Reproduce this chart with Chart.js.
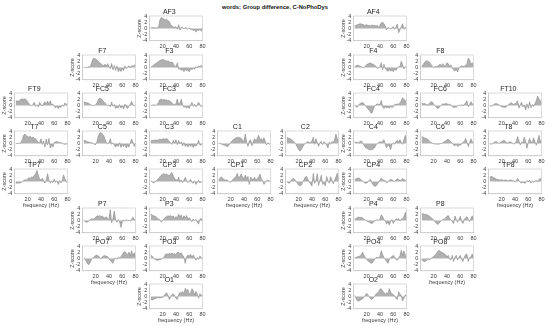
<!DOCTYPE html>
<html>
<head>
<meta charset="utf-8">
<script src="https://cdn.jsdelivr.net/npm/chart.js@4.4.1/dist/chart.umd.min.js"></script>
<style>
  html, body { margin: 0; padding: 0; background: #fff; }
  #fig { position: relative; width: 550px; height: 326px; overflow: hidden; background: #fff; }
  #fig canvas { position: absolute; }
  #suptitle {
    position: absolute; left: 0; top: 4px; width: 550px; text-align: center;
    font: bold 5.8px/7px "Liberation Sans", Arial, sans-serif; color: #111;
  }
</style>
</head>
<body>
<div id="fig"><div id="suptitle">words; Group difference, C-NoPhoDys</div></div>
<script>
// Frequency bins (Hz) and axis ticks
const freqs = [2,4,6,8,10,12,14,16,18,20,22,24,26,28,30,32,34,36,38,40,42,44,46,48,50,52,54,56,58,60,62,64,66,68,70,72,74,76,78,80];
const xTicks = [20, 40, 60, 80];
const yTicks = [-4, -2, 0, 2, 4];

// Group-difference z-scores per electrode, one value per frequency bin
const AF3  = [0.2,0.2,0.3,0.2,0.1,0.2,0.5,2.8,3.5,3.3,3.0,2.8,2.9,2.5,2.2,1.2,0.8,0.5,0.3,0.6,-0.3,1.2,-0.6,0.4,0.2,-0.2,0.3,0.1,-0.3,0.2,-0.4,-0.2,-0.7,-0.5,-1.2,-0.4,-0.8,-0.3,-0.9,0.2];
const AF4  = [0.8,1.0,1.2,1.3,1.5,1.4,1.3,1.1,1.0,1.2,0.9,1.0,0.8,1.1,0.9,1.0,0.8,0.9,0.4,1.0,1.8,2.0,1.5,0.8,-0.5,0.3,0.1,-0.2,0.3,0.5,-0.3,0.4,1.4,-1.4,-0.5,0.6,1.5,-0.3,0.4,-0.2];
const F7   = [0.1,0.0,-0.1,0.1,0.2,0.3,1.5,2.8,2.9,2.7,2.4,2.0,1.5,1.2,0.8,0.6,1.0,0.5,1.2,0.3,-0.4,1.3,-0.8,0.6,-1.0,0.5,-1.4,-0.6,-1.3,-0.3,-1.0,0.5,-0.4,0.2,0.5,-0.2,0.6,0.3,0.8,0.5];
const F3   = [0.1,0.3,0.6,1.0,1.3,1.6,1.9,2.2,2.4,2.6,2.4,2.2,2.0,2.1,1.8,1.6,1.8,1.2,0.4,0.2,1.4,-0.6,-0.3,-1.0,-0.5,-1.4,-0.4,-1.2,-0.6,-1.5,-0.3,-0.8,-0.2,-0.6,0.3,-0.2,0.5,0.2,0.6,0.4];
const F4   = [0.2,0.5,0.7,0.6,0.4,0.2,0.0,-0.1,0.4,0.9,1.1,1.3,1.5,1.0,1.1,0.6,0.4,-0.3,-0.2,0.3,1.5,-0.8,1.0,-0.4,-0.8,-1.3,-0.6,-1.2,-0.9,-1.4,-0.5,-1.0,-0.3,0.2,0.3,2.0,0.8,-0.5,0.3,-0.2];
const F8   = [0.2,0.8,1.5,2.0,2.1,2.0,1.6,1.0,0.3,0.0,0.2,0.4,0.3,0.8,1.0,0.6,1.2,0.4,0.6,1.5,1.2,0.4,0.8,-0.3,-0.8,-1.2,-0.6,-1.5,-0.2,0.2,0.5,0.3,0.4,0.6,1.2,3.0,2.4,1.0,1.5,0.5];
const FT9  = [1.2,1.5,1.3,1.6,2.0,2.1,2.0,2.1,1.8,1.2,0.5,0.1,-0.2,0.3,1.0,-0.3,0.2,-0.5,1.0,0.3,-0.2,0.6,1.2,0.4,1.4,0.3,1.5,0.2,0.4,-0.2,-0.8,-0.3,-1.0,-0.4,-0.6,0.2,-0.3,0.8,0.3,0.6];
const FC5  = [1.2,1.0,0.9,0.8,0.6,0.3,0.1,0.0,-0.1,0.2,0.8,1.8,2.4,2.2,1.8,1.2,0.8,0.3,-0.2,0.2,-0.4,1.1,-0.3,0.3,-1.0,-0.4,-0.9,0.3,-0.8,-0.2,-1.2,0.4,-0.6,-1.0,-0.3,0.4,1.3,0.3,-0.2,0.1];
const FC3  = [0.1,0.0,0.2,0.1,0.0,0.4,1.0,1.9,2.0,1.8,1.9,1.7,1.8,1.5,1.6,1.2,0.8,0.4,0.2,0.5,2.1,0.3,0.8,2.0,0.2,-0.6,-0.3,-0.9,-0.4,-1.0,0.2,1.0,-0.3,0.4,-0.5,0.3,1.0,0.2,-0.4,0.2];
const FC4  = [0.1,-0.4,-0.6,0.2,0.5,0.8,1.0,0.5,0.0,-0.6,-1.2,-1.6,-2.3,-2.5,-1.2,-0.3,0.2,0.5,0.3,0.4,1.6,-0.5,-1.0,-0.4,-0.8,-0.5,-0.9,-0.3,-0.7,-0.4,0.3,0.2,0.5,0.4,0.8,1.5,2.5,1.8,1.6,1.2];
const FC6  = [0.6,0.5,0.6,0.4,0.2,0.1,0.8,1.2,1.1,0.4,0.0,-0.6,-1.0,-0.8,-0.2,0.2,0.5,0.4,0.6,0.5,0.3,0.4,0.1,-0.4,-0.7,-0.5,-0.6,-0.2,0.1,0.0,0.3,-0.2,0.4,0.8,1.5,-0.4,0.3,1.2,0.5,0.2];
const FT10 = [0.0,-0.3,-0.2,0.3,0.5,0.6,0.4,0.2,-0.2,-0.4,-0.6,-0.5,-0.7,-0.3,0.2,0.5,0.9,0.6,0.3,0.5,0.8,1.5,-0.9,0.3,1.0,-0.5,0.2,-1.5,0.5,-1.0,1.2,-0.8,0.3,-0.4,0.6,1.5,3.0,2.2,1.5,0.6];
const T7   = [-0.1,0.0,-0.1,0.1,0.3,1.2,2.6,3.0,2.5,2.2,2.0,2.3,1.9,2.0,1.6,1.5,0.8,0.3,0.2,1.5,-0.3,0.8,-1.2,1.5,-0.5,1.6,-1.5,-0.4,-1.2,0.3,0.5,0.6,0.4,0.3,0.2,0.1,-0.2,-0.3,-0.2,-0.1];
const C5   = [1.0,0.9,0.7,0.5,0.4,0.3,0.2,0.1,-0.3,-0.4,0.5,2.5,3.2,3.5,3.0,2.6,1.4,0.3,-0.2,0.3,1.5,-0.3,0.2,-0.6,-1.2,-0.4,-1.0,0.2,-1.3,-0.5,-1.0,-0.3,-1.5,-0.6,-1.2,0.2,1.4,0.4,-1.0,0.2];
const C3   = [0.8,0.9,1.0,1.0,1.1,1.0,1.2,1.3,1.2,1.4,1.5,1.3,1.6,1.2,0.6,0.2,-0.3,1.0,0.1,1.2,-0.4,1.0,-0.2,0.5,-0.8,0.3,-1.0,-0.3,-1.2,-0.2,-1.0,-0.4,-1.3,-0.5,-0.9,-0.3,1.0,-0.6,-0.4,0.1];
const C1   = [0.1,0.0,-0.2,-0.4,-0.5,-0.7,-0.9,-1.0,-0.4,0.3,0.8,1.2,1.5,1.8,1.9,2.0,1.8,1.6,1.0,0.6,3.0,0.3,-1.0,0.8,1.2,-0.8,0.6,1.5,0.8,1.6,2.6,1.2,1.5,0.9,1.8,0.6,-0.5,0.2,-0.3,0.1];
const C2   = [2.0,1.8,1.6,1.4,1.1,0.8,0.3,-0.3,-1.2,-2.0,-2.5,-2.0,-1.2,-0.4,0.0,0.3,0.6,0.2,0.4,0.8,2.0,-0.3,1.5,0.2,-1.0,0.3,0.6,-0.4,0.5,0.2,-0.6,-1.5,0.4,-0.3,0.6,0.2,1.2,3.0,1.5,0.5];
const C4   = [0.5,0.3,0.4,0.2,0.6,0.8,0.2,-0.6,-1.3,-1.6,-1.8,-2.0,-2.1,-2.0,-1.8,-1.4,-0.5,0.0,0.3,0.5,0.4,0.8,1.2,-0.4,-1.4,-0.6,-0.8,-2.0,-0.4,0.2,-0.3,0.6,1.0,0.5,1.2,0.4,-0.3,1.2,2.6,1.0];
const C6   = [2.0,2.1,1.8,1.6,1.5,1.2,0.6,0.3,0.1,-0.1,-0.2,-0.2,-0.3,-0.2,-0.1,0.0,0.2,0.5,0.8,1.1,1.3,0.9,0.4,0.1,-0.5,-0.8,-0.3,-1.0,-0.5,-0.6,-0.2,0.4,0.6,1.6,0.4,-1.0,0.3,1.5,0.5,0.2];
const T8   = [0.0,-0.3,-0.1,0.2,0.5,0.6,0.3,0.0,0.3,0.6,0.8,1.0,0.5,0.1,0.2,0.5,0.4,0.2,-0.3,0.1,0.5,2.2,0.8,-0.5,0.4,0.3,2.0,0.6,-1.6,0.3,1.6,0.4,0.2,1.8,0.5,-0.6,0.8,2.6,0.4,1.2];
const TP7  = [-0.5,-0.6,-0.5,-0.5,-0.4,0.0,0.3,0.5,0.4,0.8,1.2,0.9,1.5,1.2,2.0,2.3,3.5,2.0,0.8,0.5,1.0,0.3,-0.5,0.4,2.5,0.3,-0.6,0.2,-0.4,0.8,-0.3,0.2,-1.0,0.3,-0.5,0.4,2.1,0.8,-0.3,0.2];
const CP3  = [0.2,0.0,-0.5,-0.3,0.1,0.5,1.0,1.5,2.0,2.3,2.5,2.2,2.4,2.0,1.8,2.5,2.9,1.8,0.8,0.6,0.3,1.4,-0.3,0.5,-0.4,0.4,1.3,0.2,-0.4,0.3,0.6,-0.3,-0.6,0.2,-1.0,-0.3,0.4,-0.5,-0.2,0.1];
const CP1  = [0.3,1.0,1.5,1.0,0.6,0.4,0.5,0.2,-0.1,-0.3,0.2,0.8,1.2,1.5,2.6,1.2,1.5,2.4,1.2,0.9,2.0,1.0,1.6,-1.0,1.4,0.8,0.5,1.3,0.4,0.9,1.3,2.4,0.8,0.4,-1.0,-0.3,0.3,0.4,0.2,-0.1];
const CP2  = [0.0,-0.4,-0.6,0.2,0.6,1.0,0.6,0.1,-0.6,-1.2,-1.4,-1.2,-0.3,0.5,1.4,1.6,0.6,-0.3,-0.8,-1.5,2.6,-0.6,0.3,2.5,-1.3,0.4,2.0,-1.0,-0.3,-1.5,1.6,0.3,-0.6,1.5,0.4,-0.8,0.5,1.4,2.6,0.5];
const CP4  = [0.6,0.8,1.0,1.1,0.9,0.4,0.1,-0.3,-0.6,-0.5,-0.2,0.4,0.6,-0.5,-1.2,-1.6,-1.5,-1.0,-0.2,0.4,1.1,0.6,0.2,0.3,-0.5,-0.2,0.4,0.6,0.5,0.2,-0.1,0.4,0.9,0.6,0.3,0.4,1.0,0.6,0.4,0.3];
const TP8  = [1.3,1.6,1.5,1.2,1.0,0.8,0.6,0.5,0.4,0.6,0.3,0.4,0.5,0.3,0.2,0.4,0.5,0.2,0.3,-0.2,0.3,1.0,0.2,-0.3,-0.5,-0.2,-0.6,-0.4,0.3,-0.2,0.4,-0.5,0.2,-0.3,0.1,0.4,-0.2,0.6,1.0,0.3];
const P7   = [0.0,-0.3,-0.6,-0.5,-0.2,0.3,0.5,0.4,0.6,1.0,1.5,1.3,1.6,1.2,1.4,1.0,0.8,1.2,0.6,0.3,3.5,-0.8,0.5,3.0,0.2,-0.6,0.3,-0.4,-2.3,-0.5,0.2,-0.3,0.3,-0.2,0.1,-0.3,0.4,1.0,0.2,0.1];
const P3   = [2.0,1.8,1.5,1.4,1.2,0.8,0.4,0.2,-0.6,0.1,0.5,1.0,1.2,1.5,1.3,1.6,1.2,1.4,0.6,1.2,0.8,2.0,1.0,1.8,0.5,1.5,0.8,1.6,0.3,0.9,0.2,-0.4,0.5,-0.2,0.3,-0.5,-1.2,0.4,0.6,-0.3];
const P4   = [0.4,0.6,0.9,1.1,0.9,1.0,0.8,0.4,0.1,-0.2,-0.4,-0.6,-0.8,-1.1,-0.6,-0.2,0.1,0.2,0.0,0.5,1.8,1.2,0.4,-0.3,-1.2,-0.5,-1.5,-0.4,0.3,-1.0,-0.3,0.5,0.3,0.6,-0.2,0.4,0.5,1.2,2.6,0.8];
const P8   = [2.0,2.2,1.9,2.0,1.8,1.6,1.3,0.9,0.5,0.2,-0.4,-0.9,-1.3,-1.0,-0.4,0.0,0.3,0.4,0.8,1.3,1.6,0.6,0.2,-0.4,-1.0,1.4,0.3,-0.6,0.4,1.3,-0.3,-1.0,0.4,0.8,1.2,0.3,-0.4,0.6,1.5,0.3];
const PO7  = [0.2,-0.3,-1.0,-1.8,-2.0,-1.2,-0.3,0.2,0.6,0.9,1.1,0.8,0.2,-0.2,0.5,0.8,0.9,0.7,0.6,-0.2,-0.6,-1.2,-1.6,-0.4,0.2,-0.3,0.4,0.2,0.5,1.2,1.9,2.2,1.6,1.2,2.0,1.0,2.5,0.8,1.8,0.4];
const PO3  = [1.0,0.8,0.3,-0.3,-0.5,-0.6,-0.5,-0.4,-0.3,0.0,0.4,1.2,1.5,1.3,1.6,1.4,1.8,1.3,1.6,1.2,1.9,2.0,1.5,1.8,1.0,0.4,-1.6,0.6,1.0,0.8,1.3,0.4,1.1,0.2,-0.6,0.3,-0.4,0.8,0.2,-0.3];
const PO4  = [0.1,0.3,0.5,0.6,0.8,1.2,2.0,1.0,0.3,-0.3,-0.8,-1.2,-1.4,-1.6,-1.0,-0.3,0.2,0.4,0.2,0.6,2.5,1.2,0.3,-0.3,-1.0,-1.6,-0.4,0.3,0.6,1.0,0.4,-0.3,-0.6,0.2,0.8,2.6,1.0,2.4,1.2,0.4];
const PO8  = [-0.3,-0.8,-1.0,-0.9,-0.5,-0.2,-0.5,0.0,0.3,0.6,1.0,1.5,2.2,2.6,2.3,2.0,1.8,1.5,1.2,0.5,1.0,-0.2,-0.5,1.0,-1.0,0.4,1.0,-0.5,0.3,1.0,-0.3,-1.0,0.4,1.2,1.4,-1.0,0.3,0.5,1.4,0.3];
const O1   = [-0.8,-1.2,-1.0,-0.8,-0.6,-0.5,-0.4,-0.5,-0.3,-0.4,0.2,0.8,1.2,0.3,-1.0,-0.3,0.6,0.8,0.2,-0.6,-1.0,0.5,1.3,1.0,1.6,0.8,2.6,1.8,2.2,0.6,1.2,2.5,1.8,0.5,1.6,0.8,-0.6,0.9,0.3,0.5];
const O2   = [0.3,-0.6,-1.4,-1.5,-1.3,-1.0,-0.8,-0.3,0.4,1.0,0.5,-0.2,-0.8,-1.0,-0.5,0.0,0.8,1.0,1.5,2.3,2.5,1.8,1.2,0.6,1.2,0.8,2.5,1.4,0.8,0.6,0.2,-0.6,-1.0,1.5,0.8,0.3,-1.5,-0.6,0.5,0.2];

// Electrode montage: label, series, grid row, grid column
const montage = [
  ['AF3', AF3, 0, 2], ['AF4', AF4, 0, 5],
  ['F7', F7, 1, 1], ['F3', F3, 1, 2], ['F4', F4, 1, 5], ['F8', F8, 1, 6],
  ['FT9', FT9, 2, 0], ['FC5', FC5, 2, 1], ['FC3', FC3, 2, 2], ['FC4', FC4, 2, 5], ['FC6', FC6, 2, 6], ['FT10', FT10, 2, 7],
  ['T7', T7, 3, 0], ['C5', C5, 3, 1], ['C3', C3, 3, 2], ['C1', C1, 3, 3], ['C2', C2, 3, 4], ['C4', C4, 3, 5], ['C6', C6, 3, 6], ['T8', T8, 3, 7],
  ['TP7', TP7, 4, 0], ['CP3', CP3, 4, 2], ['CP1', CP1, 4, 3], ['CP2', CP2, 4, 4], ['CP4', CP4, 4, 5], ['TP8', TP8, 4, 7],
  ['P7', P7, 5, 1], ['P3', P3, 5, 2], ['P4', P4, 5, 5], ['P8', P8, 5, 6],
  ['PO7', PO7, 6, 1], ['PO3', PO3, 6, 2], ['PO4', PO4, 6, 5], ['PO8', PO8, 6, 6],
  ['O1', O1, 7, 2], ['O2', O2, 7, 5]
];
// Panels that carry the y-axis title / the x-axis title
const yTitled = ['AF3','F7','FT9','T7','TP7','P7','PO7','O1','AF4','F4','FC4','C4','CP4','P4','PO4','O2'];
const xTitled = ['TP7','PO7','O1','CP1','CP2','TP8','PO8','O2'];

// Panel geometry (px)
const COL0 = 14.3, COL_STEP = 67.7, ROW0 = 16.2, ROW_STEP = 38.3;
const PLOT_W = 53.3, PLOT_H = 24.8;
const Y_AXIS_W = 13.3, X_AXIS_H = 15, PAD_R = 6;
const TITLE_SIZE = 7, TITLE_PAD = 0;
const TITLE_H = TITLE_SIZE + TITLE_PAD;
const FONT = '"Liberation Sans", Arial, sans-serif';

// Light box around each plot area
const frameBox = {
  id: 'frameBox',
  afterDatasetsDraw(chart) {
    const a = chart.chartArea, c = chart.ctx;
    c.save();
    c.strokeStyle = '#c4c4c4';
    c.lineWidth = 0.6;
    c.strokeRect(a.left, a.top, a.right - a.left, a.bottom - a.top);
    c.restore();
  }
};

const fig = document.getElementById('fig');
montage.forEach(([name, values, row, col]) => {
  const plotL = COL0 + col * COL_STEP;
  const plotT = ROW0 + row * ROW_STEP;
  const cv = document.createElement('canvas');
  const W = Y_AXIS_W + PLOT_W + PAD_R;
  const H = TITLE_H + PLOT_H + X_AXIS_H;
  cv.width = Math.round(W); cv.height = Math.round(H);
  cv.style.width = Math.round(W) + 'px'; cv.style.height = Math.round(H) + 'px';
  cv.style.left = (plotL - Y_AXIS_W) + 'px';
  cv.style.top = (plotT - TITLE_H) + 'px';
  fig.appendChild(cv);

  new Chart(cv, {
    type: 'line',
    data: {
      datasets: [{
        data: freqs.map((f, i) => ({ x: f, y: values[i] })),
        fill: 'origin',
        backgroundColor: 'rgba(150,150,150,0.75)',
        borderColor: '#8a8a8a',
        borderWidth: 0.6,
        pointRadius: 0,
        tension: 0
      }]
    },
    options: {
      responsive: false,
      animation: false,
      devicePixelRatio: 1,
      events: [],
      layout: { padding: { left: 0, right: Math.round(W) - Y_AXIS_W - PLOT_W, top: 0, bottom: Math.round(H) - H } },
      plugins: {
        legend: { display: false },
        tooltip: { enabled: false },
        title: {
          display: true, text: name, color: '#1e1e1e',
          font: { family: FONT, size: TITLE_SIZE, weight: 'normal', lineHeight: 1 },
          padding: { top: 0, bottom: TITLE_PAD }
        }
      },
      scales: {
        x: {
          type: 'linear', min: 0, max: 80,
          afterBuildTicks: s => { s.ticks = xTicks.map(v => ({ value: v })); },
          afterFit: s => { s.height = X_AXIS_H; },
          grid: { display: false, drawTicks: false, tickLength: 0 },
          border: { display: true, color: '#c4c4c4', width: 0.6 },
          ticks: { color: '#3a3a3a', font: { family: FONT, size: 5.5 }, padding: 2.5, maxRotation: 0, autoSkip: false },
          title: { display: xTitled.includes(name), text: 'frequency (Hz)', color: '#3a3a3a',
                   font: { family: FONT, size: 5.5, lineHeight: 1.2 }, padding: 0 }
        },
        y: {
          type: 'linear', min: -4, max: 4,
          afterBuildTicks: s => { s.ticks = yTicks.map(v => ({ value: v })); },
          afterFit: s => { s.width = Y_AXIS_W; },
          grid: { display: false, drawTicks: false, tickLength: 0 },
          border: { display: true, color: '#c4c4c4', width: 0.6 },
          ticks: { color: '#3a3a3a', font: { family: FONT, size: 5.5 }, padding: 2, autoSkip: false },
          title: { display: yTitled.includes(name), text: 'Z-score', color: '#3a3a3a',
                   font: { family: FONT, size: 5.5, lineHeight: 1.2 }, padding: 0 }
        }
      }
    },
    plugins: [frameBox]
  });
});
</script>
</body>
</html>
